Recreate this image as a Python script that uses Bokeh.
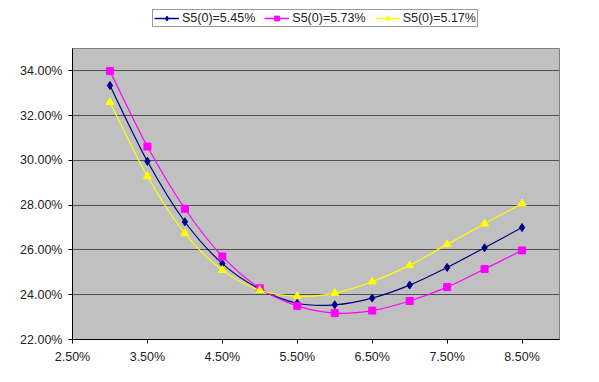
import numpy as np
from bokeh.plotting import figure
from bokeh.layouts import column
from bokeh.models import (Legend, LegendItem, FixedTicker, PrintfTickFormatter,
                          ColumnDataSource, Range1d)
from bokeh.embed import file_html
from bokeh.resources import INLINE

# ---- data ----
strikes = [3.0, 3.5, 4.0, 4.5, 5.0, 5.5, 6.0, 6.5, 7.0, 7.5, 8.0, 8.5]
vol_545 = [33.35, 29.96, 27.26, 25.39, 24.25, 23.62, 23.55, 23.85, 24.43, 25.22, 26.10, 27.00]
vol_573 = [33.99, 30.62, 27.84, 25.71, 24.29, 23.50, 23.18, 23.29, 23.72, 24.34, 25.15, 25.98]
vol_517 = [32.60, 29.29, 26.74, 25.10, 24.20, 23.93, 24.07, 24.58, 25.31, 26.25, 27.17, 28.07]
series_names = ["S5(0)=5.45%", "S5(0)=5.73%", "S5(0)=5.17%"]
x_ticks = [2.5, 3.5, 4.5, 5.5, 6.5, 7.5, 8.5]
y_ticks = [22, 24, 26, 28, 30, 32, 34]

FONT = "Liberation Sans"
FS = "12.5px"
LEG_H = 32

p = figure(width=583, height=366 - LEG_H, output_backend="svg", toolbar_location=None,
           x_range=Range1d(2.5, 9.0), y_range=Range1d(22, 35),
           min_border_left=72, min_border_right=24, min_border_top=48 - LEG_H,
           min_border_bottom=27)
p.background_fill_color = "#C0C0C0"
p.border_fill_color = "white"
p.outline_line_color = "#808080"
p.xgrid.visible = False
p.ygrid.grid_line_color = "#505050"
p.ygrid.grid_line_width = 1.2

for ax, ticks in ((p.xaxis, x_ticks), (p.yaxis, y_ticks)):
    ax.ticker = FixedTicker(ticks=ticks)
    ax.formatter = PrintfTickFormatter(format="%.2f%%")
    ax.major_label_text_font = FONT
    ax.major_label_text_font_size = FS
    ax.major_label_text_color = "#222222"
    ax.axis_line_color = "black"
    ax.major_tick_line_color = "black"
    ax.major_tick_in = 0
    ax.major_tick_out = 4
    ax.minor_tick_line_color = None
    ax.major_label_standoff = 6


def smooth(xs, ys):
    xs = np.asarray(xs, float)
    ys = np.asarray(ys, float)
    n = len(xs)
    x0, y0, x1, y1, cx0, cy0, cx1, cy1 = [], [], [], [], [], [], [], []
    for i in range(n - 1):
        a = max(i - 1, 0)
        d = min(i + 2, n - 1)
        x0.append(xs[i]); y0.append(ys[i])
        x1.append(xs[i + 1]); y1.append(ys[i + 1])
        cx0.append(xs[i] + (xs[i + 1] - xs[a]) / 6)
        cy0.append(ys[i] + (ys[i + 1] - ys[a]) / 6)
        cx1.append(xs[i + 1] - (xs[d] - xs[i]) / 6)
        cy1.append(ys[i + 1] - (ys[d] - ys[i]) / 6)
    return dict(x0=x0, y0=y0, x1=x1, y1=y1, cx0=cx0, cy0=cy0, cx1=cx1, cy1=cy1)


# legend strip as its own small figure above the chart (its data lies outside its view)
lf = figure(width=583, height=LEG_H, output_backend="svg", toolbar_location=None,
            x_range=Range1d(0, 1), y_range=Range1d(0, 1),
            x_axis_location=None, y_axis_location=None,
            min_border_left=0, min_border_right=0, min_border_top=0, min_border_bottom=0)
lf.grid.visible = False
lf.outline_line_color = None
lf.background_fill_color = "white"
lf.border_fill_color = "white"

styles = [("#000080", "diamond", 8), ("#FF00FF", "square", 7), ("#FFFF00", "triangle", 8)]
items = []
for name, vals, (col, mk, sz) in zip(series_names, [vol_545, vol_573, vol_517], styles):
    p.bezier(source=ColumnDataSource(smooth(strikes, vals)), x0="x0", y0="y0", x1="x1", y1="y1",
             cx0="cx0", cy0="cy0", cx1="cx1", cy1="cy1", line_color=col, line_width=1.2)
    p.scatter(strikes, vals, marker=mk, size=sz, fill_color=col, line_color=col)
    ln = lf.line(strikes, vals, line_color=col, line_width=1.5)
    sc = lf.scatter(strikes, vals, marker=mk, size=sz, fill_color=col, line_color=col)
    items.append(LegendItem(label=name, renderers=[ln, sc]))

legend = Legend(items=items, orientation="horizontal", location=(80, 5),
                glyph_width=25, glyph_height=12, label_standoff=3, spacing=9,
                padding=1, margin=0, label_height=12,
                label_text_font=FONT, label_text_font_size=FS, label_text_color="#222222",
                border_line_color="#333333", border_line_width=1,
                background_fill_color="white", background_fill_alpha=1)
lf.add_layout(legend, "center")

layout = column(lf, p, spacing=0)
open("out.html", "w").write(file_html(layout, INLINE))
